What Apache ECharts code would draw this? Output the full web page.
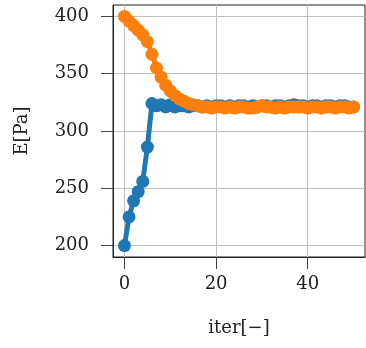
<!DOCTYPE html>
<html><head><meta charset="utf-8">
<script src="https://cdn.jsdelivr.net/npm/echarts@6/dist/echarts.min.js"></script>
<style>html,body{margin:0;padding:0;background:#fff}#c{width:366px;height:348px}</style>
</head><body><div id="c"></div>
<script>
const iters = Array.from({length: 51}, (_, i) => i);
const seriesBlue = [200,225,239,247,256,286,324,322,323,321,323,321,322,322,321,322,322,321,322,321,322,322,321,322,321,322,322,321,322,321,322,322,321,322,322,321,322,323,322,322,321,322,322,321,322,322,321,322,322,321,321];
const seriesOrange = [400,396,392,388,384,378,367,355,347,340,335,331,328,326,324,323,322,321,321,320,321,321,320,321,320,321,321,320,320,321,322,321,321,320,321,320,321,321,321,321,320,321,321,320,321,321,320,321,321,320,321];
const xTicks = [0, 20, 40];
const yTicks = [200, 250, 300, 350, 400];
const xName = 'iter[\u2212]';
const yName = 'E[Pa]';

const font = 'DejaVu Serif';
const chart = echarts.init(document.getElementById('c'), null, {renderer: 'canvas'});
const mk = (vals) => iters.map((x, i) => [x, vals[i]]);
chart.setOption({
  animation: false,
  grid: {left: 113, top: 5, width: 252, height: 252, show: true, borderColor: '#222', borderWidth: 1, backgroundColor: 'transparent'},
  xAxis: {
    type: 'value', min: -2.5, max: 52.5,
    name: xName, nameLocation: 'middle', nameGap: 62,
    nameTextStyle: {fontFamily: font, fontSize: 18, color: '#222'},
    axisLine: {show: true, onZero: false, lineStyle: {color: '#222', width: 1}},
    axisTick: {show: true, length: 12, customValues: xTicks, lineStyle: {color: '#444'}},
    axisLabel: {customValues: xTicks, margin: 18, fontFamily: font, fontSize: 18, color: '#222'},
    splitLine: {show: true, lineStyle: {color: '#c0c0c0', width: 1}}
  },
  yAxis: {
    type: 'value', min: 190, max: 410,
    name: yName, nameLocation: 'middle', nameGap: 82, nameRotate: 90,
    nameTextStyle: {fontFamily: font, fontSize: 18, color: '#222'},
    axisLine: {show: true, onZero: false, lineStyle: {color: '#222', width: 1}},
    axisTick: {show: true, length: 12, customValues: yTicks, lineStyle: {color: '#444'}},
    axisLabel: {customValues: yTicks, margin: 24, fontFamily: font, fontSize: 18, color: '#222'},
    splitLine: {show: true, lineStyle: {color: '#c0c0c0', width: 1}}
  },
  series: [
    {type: 'line', data: mk(seriesBlue), symbol: 'circle', symbolSize: 13, showSymbol: true,
     lineStyle: {color: '#1f77b4', width: 5}, itemStyle: {color: '#1f77b4'}, z: 2},
    {type: 'line', data: mk(seriesOrange), symbol: 'circle', symbolSize: 13, showSymbol: true,
     lineStyle: {color: '#ff7f0e', width: 5}, itemStyle: {color: '#ff7f0e'}, z: 3}
  ]
});
</script></body></html>
